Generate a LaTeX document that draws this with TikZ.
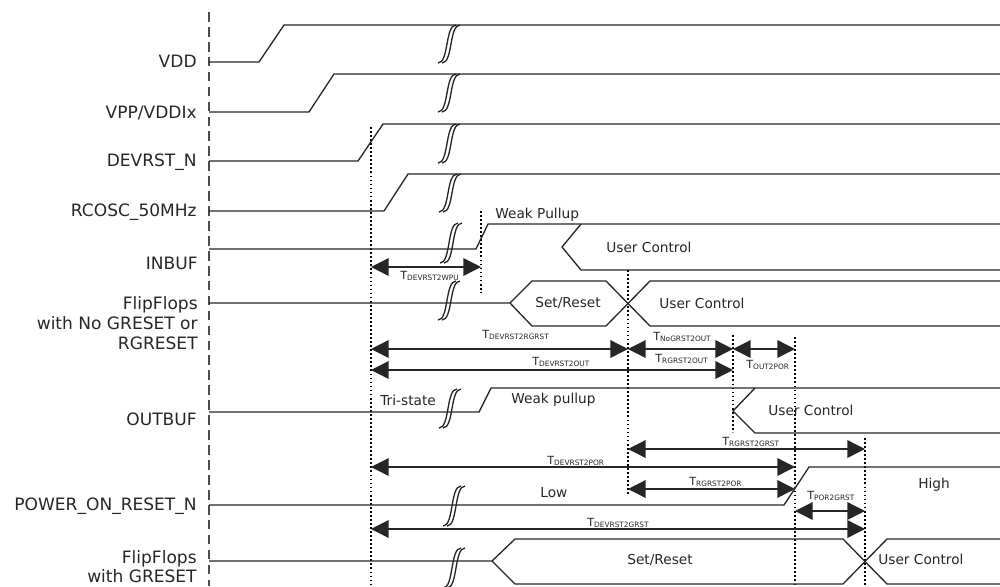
\documentclass[tikz,border=0pt]{standalone}
\usepackage{fontspec}
\setmainfont{DejaVu Sans}
\usetikzlibrary{arrows.meta}
\newcommand\tlab[1]{T\raisebox{-0.6pt}{\fontsize{4.2}{5}\selectfont #1}}
\newcommand\brkmark[3]{%
  \foreach \d in {0,4}{\draw[brkl] ({#1+\d},#3) .. controls ({#1+\d+11},#3) and ({#1+\d+7},#2) .. ({#1+\d+18},#2);}}
\begin{document}
\begin{tikzpicture}[x=0.02cm,y=-0.02cm,
  font=\fontsize{7.8}{9}\selectfont,
  sig/.style={line width=0.75pt, black!85},
  guide/.style={line width=0.6pt, dash pattern=on 1pt off 1.3pt},
  tarr/.style={line width=0.75pt, black!85, {Triangle[length=10pt,width=10pt]}-{Triangle[length=10pt,width=10pt]}},
  lab/.style={anchor=base east, font=\fontsize{9.7}{11}\selectfont, inner sep=0pt, text=black!85},
  txt/.style={anchor=base west, inner sep=0pt, text=black!85},
  tl/.style={anchor=base west, inner sep=0pt, font=\fontsize{6.4}{7}\selectfont, text=black!85},
  brkl/.style={line width=0.75pt, black!85}]
\useasboundingbox (0,0) rectangle (1000,586);
% axis
\draw[line width=1.1pt, black!70, dash pattern=on 5.5pt off 3pt] (209,12) -- (209,586);
% left labels
\node[lab] (lVDD) at (197,67) {VDD};
\node[lab] (lVPP) at (197,118) {VPP/VDDIx};
\node[lab] (lDEV) at (197,166) {DEVRST\_N};
\node[lab] (lRC) at (197,216) {RCOSC\_50MHz};
\node[lab] (lIN) at (198,269) {INBUF};
\node[lab] (lF1a) at (198,309) {FlipFlops};
\node[lab] (lF1b) at (198,329) {with No GRESET or};
\node[lab] (lF1c) at (198,349) {RGRESET};
\node[lab] (lOUT) at (197,425) {OUTBUF};
\node[lab] (lPOR) at (197,510) {POWER\_ON\_RESET\_N};
\node[lab] (lF2a) at (197,563) {FlipFlops};
\node[lab] (lF2b) at (197,582) {with GRESET};
% guides
\draw[guide] (371,127) -- (371,586);
\draw[guide] (481,211) -- (481,292);
\draw[guide] (628,270) -- (628,495);
\draw[guide] (733,335) -- (733,432);
\draw[guide] (795,337) -- (795,586);
\draw[guide] (865,438) -- (865,586);
% signals
\draw[sig] (209,62) -- (259,62) -- (284,25) -- (1000,25);
\draw[sig] (209,112) -- (309,112) -- (334,74) -- (1000,74);
\draw[sig] (209,161) -- (358,161) -- (383,124) -- (1000,124);
\draw[sig] (209,211) -- (384,211) -- (408,174) -- (1000,174);
\draw[sig] (209,249) -- (476,249) -- (488,224) -- (1000,224);
\draw[sig] (581,224) -- (562,247) -- (581,270) -- (1000,270);
\draw[sig] (209,303) -- (510,303) -- (532,281) -- (606,281) -- (650,326) -- (1000,326);
\draw[sig] (510,303) -- (532,326) -- (606,326) -- (650,281) -- (1000,281);
\draw[sig] (209,412) -- (479,412) -- (491,388) -- (1000,388);
\draw[sig] (755,388) -- (733,411) -- (755,433) -- (1000,433);
\draw[sig] (209,505) -- (784,505) -- (809,467) -- (1000,467);
\draw[sig] (209,561) -- (492,561) -- (515,539) -- (843,539) -- (887,584) -- (1000,584);
\draw[sig] (492,561) -- (515,584) -- (843,584) -- (887,539) -- (1000,539);
% break marks
\brkmark{438}{25}{63}
\brkmark{438}{74}{112}
\brkmark{438}{124}{163}
\brkmark{439}{174}{212}
\brkmark{440}{223}{263}
\brkmark{438}{281}{320}
\brkmark{439}{389}{428}
\brkmark{443}{486}{526}
\brkmark{443}{548}{588}
% signal texts
\node[txt] (wp1) at (495,218) {Weak Pullup};
\node[txt] (uc1) at (606,252) {User Control};
\node[txt] (sr1) at (535,307) {Set/Reset};
\node[txt] (uc2) at (659,308) {User Control};
\node[txt] (ts) at (380,405) {Tri-state};
\node[txt] (wp2) at (511,403) {Weak pullup};
\node[txt] (uc3) at (768,415) {User Control};
\node[txt] (low) at (540,497) {Low};
\node[txt] (high) at (918,488) {High};
\node[txt] (sr2) at (627,564) {Set/Reset};
\node[txt] (uc4) at (878,564) {User Control};
% timing arrows
\draw[tarr] (371,267) -- (481,267);
\draw[tarr] (371,349) -- (628,349);
\draw[tarr] (628,349) -- (733,349);
\draw[tarr] (733,349) -- (795,349);
\draw[tarr] (371,370) -- (733,370);
\draw[tarr] (628,449) -- (865,449);
\draw[tarr] (371,467) -- (795,467);
\draw[tarr] (628,489) -- (795,489);
\draw[tarr] (795,511) -- (865,511);
\draw[tarr] (371,529) -- (865,529);
% timing labels
\node[tl] (t1) at (400,279) {\tlab{DEVRST2WPU}};
\node[tl] (t2) at (482,338) {\tlab{DEVRST2RGRST}};
\node[tl] (t3) at (653,340) {\tlab{NoGRST2OUT}};
\node[tl] (t4) at (532,365) {\tlab{DEVRST2OUT}};
\node[tl] (t5) at (655,362) {\tlab{RGRST2OUT}};
\node[tl] (t6) at (746,368) {\tlab{OUT2POR}};
\node[tl] (t7) at (722,445) {\tlab{RGRST2GRST}};
\node[tl] (t8) at (547,464) {\tlab{DEVRST2POR}};
\node[tl] (t9) at (689,485) {\tlab{RGRST2POR}};
\node[tl] (t10) at (807,499) {\tlab{POR2GRST}};
\node[tl] (t11) at (587,526) {\tlab{DEVRST2GRST}};
\end{tikzpicture}
\end{document}
